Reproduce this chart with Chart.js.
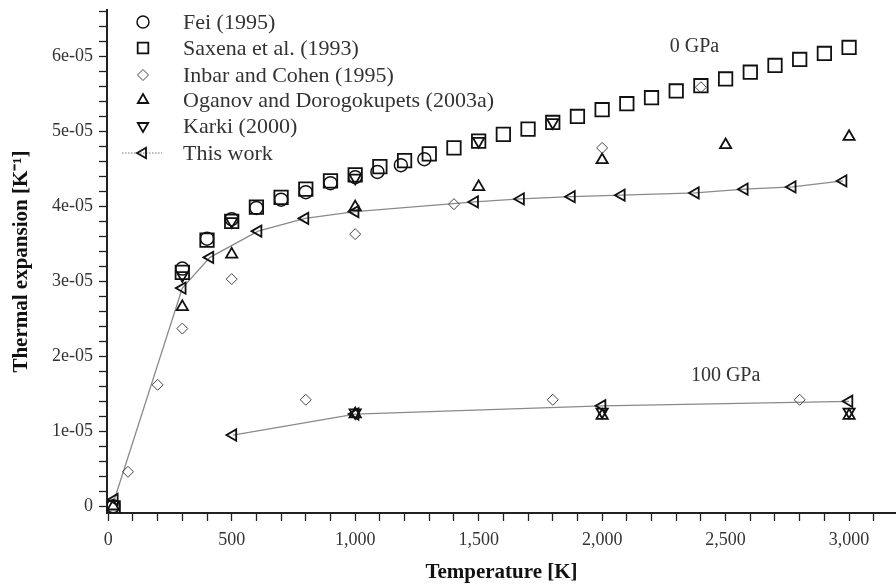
<!DOCTYPE html>
<html>
<head>
<meta charset="utf-8">
<script src="https://cdn.jsdelivr.net/npm/chart.js@4/dist/chart.umd.min.js"></script>
<style>
  body { margin: 0; background: #fff; }
  #wrap { width: 896px; height: 587px; }
</style>
</head>
<body>
<div id="wrap"><canvas id="chart" width="896" height="587"></canvas></div>
<script>
// values are in units of 1e-05 K^-1
const feiT = [20, 300, 400, 500, 600, 700, 800, 900, 1000, 1090, 1185, 1280];
const feiA = [0, 3.17, 3.57, 3.83, 3.98, 4.09, 4.19, 4.31, 4.39, 4.46, 4.55, 4.63];

const saxenaT = [20, 300, 400, 500, 600, 700, 800, 900, 1000, 1100, 1200, 1300, 1400, 1500, 1600, 1700, 1800, 1900, 2000, 2100, 2200, 2300, 2400, 2500, 2600, 2700, 2800, 2900, 3000];
const saxenaA = [-0.02, 3.12, 3.55, 3.80, 3.99, 4.12, 4.23, 4.34, 4.42, 4.53, 4.61, 4.70, 4.78, 4.87, 4.96, 5.03, 5.12, 5.20, 5.29, 5.37, 5.45, 5.54, 5.61, 5.70, 5.79, 5.88, 5.96, 6.04, 6.12];

const inbarT = [80, 200, 300, 500, 1000, 1400, 2000, 2400];
const inbarA = [0.46, 1.62, 2.37, 3.03, 3.63, 4.03, 4.78, 5.59];
const inbarHpT = [800, 1800, 2800];
const inbarHpA = [1.42, 1.42, 1.42];

const oganovT = [20, 300, 500, 1000, 1500, 2000, 2500, 3000];
const oganovA = [0, 2.66, 3.36, 3.99, 4.26, 4.62, 4.82, 4.93];
const oganovHpT = [1000, 2000, 3000];
const oganovHpA = [1.23, 1.21, 1.21];

const karkiT = [300, 500, 1000, 1500, 1800];
const karkiA = [3.08, 3.80, 4.38, 4.87, 5.12];
const karkiHpT = [1000, 2000, 3000];
const karkiHpA = [1.25, 1.26, 1.26];

const workT = [25, 300, 412, 607, 797, 1000, 1484, 1670, 1876, 2078, 2378, 2576, 2770, 2976];
const workA = [0.09, 2.91, 3.32, 3.67, 3.84, 3.93, 4.06, 4.10, 4.13, 4.15, 4.18, 4.23, 4.26, 4.34];
const workHpT = [505, 1000, 2000, 3000];
const workHpA = [0.95, 1.23, 1.34, 1.40];

const legendNames = ["Fei (1995)", "Saxena et al. (1993)", "Inbar and Cohen (1995)", "Oganov and Dorogokupets (2003a)", "Karki (2000)", "This work"];
const notes = [
  { text: "0 GPa", x: 2374, y: 6.13 },
  { text: "100 GPa", x: 2500, y: 1.74 }
];

const serif = "'Liberation Serif', 'Times New Roman', serif";

function pts(xs, ys) {
  return xs.map((x, i) => ({ x: x, y: ys[i] }));
}

const markers = {
  fei: { pointStyle: "circle", pointRadius: 6.5, pointBorderWidth: 1.5, rotation: 0, color: "#111", legendR: 6 },
  saxena: { pointStyle: "rect", pointRadius: 9.5, pointBorderWidth: 1.8, rotation: 0, color: "#111", legendR: 7.5 },
  inbar: { pointStyle: "rectRot", pointRadius: 5.5, pointBorderWidth: 1, rotation: 0, color: "#444", legendR: 5.5 },
  oganov: { pointStyle: "triangle", pointRadius: 6.5, pointBorderWidth: 1.8, rotation: 0, color: "#111", legendR: 6 },
  karki: { pointStyle: "triangle", pointRadius: 6.5, pointBorderWidth: 1.8, rotation: 180, color: "#111", legendR: 6 },
  work: { pointStyle: "triangle", pointRadius: 6.5, pointBorderWidth: 1.8, rotation: 270, color: "#111", legendR: 6 }
};

function ds(label, m, data, extra) {
  return Object.assign({
    label: label,
    data: data,
    showLine: false,
    pointStyle: m.pointStyle,
    pointRadius: m.pointRadius,
    pointHoverRadius: m.pointRadius,
    pointBorderWidth: m.pointBorderWidth,
    pointRotation: m.rotation,
    pointBorderColor: m.color,
    pointBackgroundColor: "rgba(0,0,0,0)",
    borderColor: m.color
  }, extra || {});
}

const lineExtra = { showLine: true, borderColor: "#8a8a8a", borderWidth: 1.3, tension: 0 };

const datasets = [
  ds("Fei (1995)", markers.fei, pts(feiT, feiA)),
  ds("Saxena et al. (1993)", markers.saxena, pts(saxenaT, saxenaA)),
  ds("Inbar and Cohen (1995)", markers.inbar, pts(inbarT, inbarA)),
  ds("Inbar 100", markers.inbar, pts(inbarHpT, inbarHpA)),
  ds("Oganov and Dorogokupets (2003a)", markers.oganov, pts(oganovT, oganovA)),
  ds("Oganov 100", markers.oganov, pts(oganovHpT, oganovHpA)),
  ds("Karki (2000)", markers.karki, pts(karkiT, karkiA)),
  ds("Karki 100", markers.karki, pts(karkiHpT, karkiHpA)),
  ds("This work", markers.work, pts(workT, workA), lineExtra),
  ds("This work 100", markers.work, pts(workHpT, workHpA), lineExtra)
];

// legend drawn inside the plot, top left
const legendKeys = ["fei", "saxena", "inbar", "oganov", "karki", "work"];
const insideLegend = {
  id: "insideLegend",
  afterDatasetsDraw(chart) {
    const ctx = chart.ctx;
    const rows = [22, 48, 75, 100, 126, 153];
    ctx.save();
    legendKeys.forEach((k, i) => {
      const m = markers[k];
      const y = rows[i];
      if (k === "work") {
        ctx.strokeStyle = "#777";
        ctx.lineWidth = 1;
        ctx.setLineDash([1.5, 1.5]);
        ctx.beginPath();
        ctx.moveTo(122, y);
        ctx.lineTo(162, y);
        ctx.stroke();
        ctx.setLineDash([]);
      }
      ctx.strokeStyle = m.color;
      ctx.fillStyle = "rgba(0,0,0,0)";
      ctx.lineWidth = m.pointBorderWidth;
      Chart.helpers.drawPoint(ctx, { pointStyle: m.pointStyle, rotation: m.rotation, radius: m.legendR, borderWidth: m.pointBorderWidth }, 143, y);
      ctx.fillStyle = "#333";
      ctx.font = "22px " + serif;
      ctx.textBaseline = "middle";
      ctx.textAlign = "left";
      ctx.fillText(legendNames[i], 183, y + 1);
    });
    // pressure notes
    const xs = chart.scales.x, ys = chart.scales.y;
    ctx.font = "20px " + serif;
    ctx.textAlign = "center";
    notes.forEach(n => {
      ctx.fillText(n.text, xs.getPixelForValue(n.x), ys.getPixelForValue(n.y));
    });
    ctx.restore();
  }
};

new Chart(document.getElementById("chart"), {
  type: "scatter",
  data: { datasets: datasets },
  options: {
    responsive: false,
    animation: false,
    layout: { autoPadding: false, padding: { top: 10, right: 0, left: 0, bottom: 0 } },
    plugins: {
      legend: { display: false },
      tooltip: { enabled: false }
    },
    scales: {
      x: {
        type: "linear",
        min: -5,
        max: 3190,
        afterBuildTicks(scale) {
          const t = [];
          for (let v = 0; v <= 3100; v += 100) t.push({ value: v });
          scale.ticks = t;
        },
        afterFit(scale) {
          scale.height = 74;
          scale.paddingLeft = 0;
          scale.paddingRight = 0;
        },
        ticks: {
          autoSkip: false,
          maxRotation: 0,
          padding: 8,
          color: "#333",
          font: { family: serif, size: 18 },
          callback: v => (v % 500 === 0 ? v.toLocaleString("en-US") : "")
        },
        grid: { drawOnChartArea: false, drawTicks: true, tickLength: 8, tickColor: "#222", tickWidth: 1.3 },
        border: { display: true, color: "#222", width: 2 },
        title: {
          display: true,
          text: "Temperature [K]",
          color: "#111",
          font: { family: serif, size: 21, weight: "bold" },
          padding: { top: 0, bottom: 2 }
        }
      },
      y: {
        type: "linear",
        min: -0.09,
        max: 6.62,
        afterBuildTicks(scale) {
          const t = [];
          for (let k = 0; k <= 33; k++) t.push({ value: k / 5 });
          scale.ticks = t;
        },
        afterFit(scale) {
          scale.width = 107;
          scale.paddingTop = 0;
          scale.paddingBottom = 0;
        },
        ticks: {
          autoSkip: false,
          padding: 6,
          color: "#333",
          font: { family: serif, size: 18 },
          callback: v => {
            const r = Math.round(v);
            if (Math.abs(v - r) > 1e-9) return "";
            return r === 0 ? "0" : r + "e-05";
          }
        },
        grid: { drawOnChartArea: false, drawTicks: true, tickLength: 8, tickColor: "#222", tickWidth: 1.3 },
        border: { display: true, color: "#222", width: 2 },
        title: {
          display: true,
          text: "Thermal expansion [K\u207B\u00B9]",
          color: "#111",
          font: { family: serif, size: 21, weight: "bold" },
          padding: { top: 9, bottom: 0 }
        }
      }
    }
  },
  plugins: [insideLegend]
});
</script>
</body>
</html>
